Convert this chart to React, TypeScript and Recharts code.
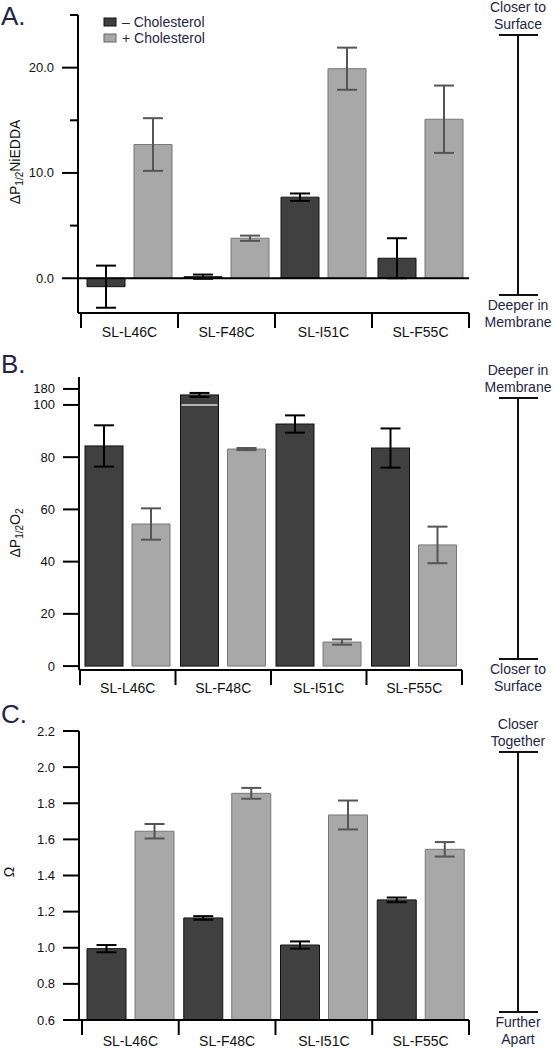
import React from 'react';
import { BarChart, Bar, XAxis, YAxis, ErrorBar, ReferenceLine, Legend } from 'recharts';

const FONT = '"Liberation Sans", Arial, Helvetica, sans-serif';
const INK = '#1f2547';
const DARK = '#404040';
const LIGHT = '#a8a8a8';

const categories = ['SL-L46C', 'SL-F48C', 'SL-I51C', 'SL-F55C'];
const seriesNames = ['– Cholesterol', '+ Cholesterol'];

// A. NiEDDA accessibility
const niMinus = [-0.8, 0.15, 7.7, 1.9];
const niMinusErr = [2.0, 0.2, 0.35, 1.9];
const niPlus = [12.7, 3.8, 19.9, 15.1];
const niPlusErr = [2.5, 0.25, 2.0, 3.2];

// B. O2 accessibility (axis broken above 100)
const o2Minus = [84.3, 150, 92.7, 83.5];
const o2MinusErr = [7.9, 10, 3.3, 7.5];
const o2Plus = [54.4, 83.1, 9.2, 46.4];
const o2PlusErr = [6.0, 0.4, 1.0, 7.0];

// C. Omega
const omegaMinus = [0.995, 1.165, 1.015, 1.265];
const omegaMinusErr = [0.02, 0.01, 0.02, 0.013];
const omegaPlus = [1.645, 1.855, 1.735, 1.545];
const omegaPlusErr = [0.04, 0.03, 0.08, 0.04];

const niTicks = [0, 5, 10, 15, 20, 25];
const omegaTicks = [0.6, 0.8, 1.0, 1.2, 1.4, 1.6, 1.8, 2.0, 2.2];

// axis break for panel B: values over 100 are squeezed
const BREAK = 100;
const SQUEEZE = 0.0766;
const toBroken = (v: number) => (v <= BREAK ? v : BREAK + (v - BREAK) * SQUEEZE);
const fromBroken = (v: number) => (v <= BREAK ? v : BREAK + (v - BREAK) / SQUEEZE);
const o2Ticks = [0, 20, 40, 60, 80, 100, toBroken(180)];

const niData = categories.map((name, i) => ({
  name,
  minus: niMinus[i],
  minusErr: niMinusErr[i],
  plus: niPlus[i],
  plusErr: niPlusErr[i],
}));

const o2Data = categories.map((name, i) => ({
  name,
  minus: toBroken(o2Minus[i]),
  minusErr: o2Minus[i] > BREAK ? o2MinusErr[i] * SQUEEZE : o2MinusErr[i],
  plus: toBroken(o2Plus[i]),
  plusErr: o2Plus[i] > BREAK ? o2PlusErr[i] * SQUEEZE : o2PlusErr[i],
}));

const omegaData = categories.map((name, i) => ({
  name,
  minus: omegaMinus[i],
  minusErr: omegaMinusErr[i],
  plus: omegaPlus[i],
  plusErr: omegaPlusErr[i],
}));

const axisLine = { stroke: '#000', strokeWidth: 2 };

function makeYTick(label: (v: number) => string | null) {
  return (props: any) => {
    const { x, y, payload } = props;
    const txt = label(payload.value);
    const len = txt === null ? 8 : 16;
    return (
      <g>
        <line x1={x - len} x2={x} y1={y} y2={y} stroke="#000" strokeWidth={2} />
        {txt !== null && (
          <text x={x - 24} y={y} dy={4.5} textAnchor="end" fontSize={13} fill="#111" fontFamily={FONT}>
            {txt}
          </text>
        )}
      </g>
    );
  };
}

function makeBracketTick(half: number, dy: number) {
  return (props: any) => {
    const { x, y, payload, index } = props;
    return (
      <g>
        <line x1={x - half} x2={x - half} y1={y} y2={y + 15} stroke="#000" strokeWidth={2} />
        {index === categories.length - 1 && (
          <line x1={x + half} x2={x + half} y1={y} y2={y + 15} stroke="#000" strokeWidth={2} />
        )}
        <text x={x} y={y + dy} textAnchor="middle" fontSize={14} fill="#111" fontFamily={FONT}>
          {payload.value}
        </text>
      </g>
    );
  };
}

// dark bar in B gets a pale line where the axis is broken
const BrokenBar = (props: any) => {
  const { x, y, width, height, payload } = props;
  const v = payload.minus;
  const breakY = v > BREAK ? y + height - (height * BREAK) / v : null;
  return (
    <g>
      <rect x={x} y={y} width={width} height={height} fill={DARK} stroke="#111" strokeWidth={1} />
      {breakY !== null && (
        <line x1={x + 1} x2={x + width - 1} y1={breakY} y2={breakY} stroke="#b5b5b5" strokeWidth={2} />
      )}
    </g>
  );
};

const renderLegend = () => (
  <div style={{ fontFamily: FONT, fontSize: 14, color: INK, lineHeight: '16px' }}>
    {seriesNames.map((name, i) => (
      <div key={name} style={{ display: 'flex', alignItems: 'center', whiteSpace: 'nowrap' }}>
        <svg width={19} height={16}>
          <rect
            x={1}
            y={4}
            width={12}
            height={8}
            fill={i === 0 ? DARK : LIGHT}
            stroke={i === 0 ? '#111' : '#666'}
            strokeWidth={1}
          />
        </svg>
        <span>{name}</span>
      </div>
    ))}
  </div>
);

function ScaleBar({ top, bottom, upper, lower }: { top: number; bottom: number; upper: string[]; lower: string[] }) {
  const cx = 518;
  return (
    <g>
      <line x1={cx} x2={cx} y1={top} y2={bottom} stroke="#111" strokeWidth={2} />
      <line x1={499} x2={538} y1={top} y2={top} stroke="#111" strokeWidth={2} />
      <line x1={499} x2={538} y1={bottom} y2={bottom} stroke="#111" strokeWidth={2} />
      {upper.map((t, i) => (
        <text key={'u' + i} x={cx} y={top - 6 - (upper.length - 1 - i) * 17} textAnchor="middle" fontSize={14} fill={INK} fontFamily={FONT}>
          {t}
        </text>
      ))}
      {lower.map((t, i) => (
        <text key={'l' + i} x={cx} y={bottom + 15 + i * 17} textAnchor="middle" fontSize={14} fill={INK} fontFamily={FONT}>
          {t}
        </text>
      ))}
    </g>
  );
}

export default function App() {
  const W = 554;
  return (
    <div style={{ position: 'absolute', left: 0, top: 0, width: W, height: 1050, background: '#fff', fontFamily: FONT }}>
      {/* A */}
      <div style={{ position: 'absolute', left: 0, top: 0 }}>
        <BarChart width={W} height={350} data={niData} margin={{ top: 15, right: 85, bottom: 7, left: 0 }} barCategoryGap={6} barGap={9}>
          <XAxis
            dataKey="name"
            height={30}
            padding={{ left: 3, right: 0 }}
            axisLine={axisLine}
            tickLine={false}
            tickSize={0}
            tickMargin={0}
            interval={0}
            tick={makeBracketTick(48.5, 24)}
          />
          <YAxis
            width={78}
            type="number"
            domain={[-3.3, 25]}
            allowDataOverflow
            ticks={niTicks}
            interval={0}
            axisLine={axisLine}
            tickLine={false}
            tickSize={0}
            tickMargin={0}
            tick={makeYTick((v) => (v % 10 === 0 ? v.toFixed(1) : null))}
          />
          <ReferenceLine y={0} stroke="#000" strokeWidth={2} />
          <Legend
            content={renderLegend}
            layout="vertical"
            align="center"
            verticalAlign="middle"
            wrapperStyle={{ top: 14, left: 103, width: 'auto', height: 'auto' }}
          />
          <Bar dataKey="minus" name={seriesNames[0]} fill={DARK} stroke="#111" strokeWidth={1} isAnimationActive={false}>
            <ErrorBar dataKey="minusErr" direction="y" width={10} stroke="#000" strokeWidth={2} />
          </Bar>
          <Bar dataKey="plus" name={seriesNames[1]} fill={LIGHT} stroke="#777" strokeWidth={1} isAnimationActive={false}>
            <ErrorBar dataKey="plusErr" direction="y" width={10} stroke="#555" strokeWidth={2} />
          </Bar>
        </BarChart>
      </div>

      {/* B */}
      <div style={{ position: 'absolute', left: 0, top: 350 }}>
        <BarChart width={W} height={350} data={o2Data} margin={{ top: 27, right: 92, bottom: 0, left: 0 }} barCategoryGap={5} barGap={9}>
          <XAxis
            dataKey="name"
            height={30}
            padding={{ left: 1, right: 0 }}
            axisLine={axisLine}
            tickLine={false}
            tickSize={0}
            tickMargin={0}
            interval={0}
            tick={makeBracketTick(47.75, 23)}
          />
          <YAxis
            width={79}
            type="number"
            domain={[-1.5, 110.7]}
            allowDataOverflow
            ticks={o2Ticks}
            interval={0}
            axisLine={axisLine}
            tickLine={false}
            tickSize={0}
            tickMargin={0}
            tick={makeYTick((v) => String(Math.round(fromBroken(v))))}
          />
          <Bar dataKey="minus" name={seriesNames[0]} fill={DARK} shape={BrokenBar} isAnimationActive={false}>
            <ErrorBar dataKey="minusErr" direction="y" width={10} stroke="#000" strokeWidth={2} />
          </Bar>
          <Bar dataKey="plus" name={seriesNames[1]} fill={LIGHT} stroke="#777" strokeWidth={1} isAnimationActive={false}>
            <ErrorBar dataKey="plusErr" direction="y" width={10} stroke="#555" strokeWidth={2} />
          </Bar>
        </BarChart>
      </div>

      {/* C */}
      <div style={{ position: 'absolute', left: 0, top: 700 }}>
        <BarChart width={W} height={350} data={omegaData} margin={{ top: 31, right: 85, bottom: 0, left: 0 }} barCategoryGap={5} barGap={9}>
          <XAxis
            dataKey="name"
            height={30}
            padding={{ left: 3, right: 0 }}
            axisLine={axisLine}
            tickLine={false}
            tickSize={0}
            tickMargin={0}
            interval={0}
            tick={makeBracketTick(48.4, 26)}
          />
          <YAxis
            width={79}
            type="number"
            domain={[0.6, 2.2]}
            allowDataOverflow
            ticks={omegaTicks}
            interval={0}
            axisLine={axisLine}
            tickLine={false}
            tickSize={0}
            tickMargin={0}
            tick={makeYTick((v) => v.toFixed(1))}
          />
          <Bar dataKey="minus" name={seriesNames[0]} fill={DARK} stroke="#111" strokeWidth={1} isAnimationActive={false}>
            <ErrorBar dataKey="minusErr" direction="y" width={10} stroke="#000" strokeWidth={2} />
          </Bar>
          <Bar dataKey="plus" name={seriesNames[1]} fill={LIGHT} stroke="#777" strokeWidth={1} isAnimationActive={false}>
            <ErrorBar dataKey="plusErr" direction="y" width={10} stroke="#555" strokeWidth={2} />
          </Bar>
        </BarChart>
      </div>

      {/* panel letters, axis titles, depth scale bars */}
      <svg width={W} height={1050} style={{ position: 'absolute', left: 0, top: 0, pointerEvents: 'none' }}>
        <text x={1} y={25} fontSize={26} fill={INK} fontFamily={FONT}>A.</text>
        <text x={1} y={373} fontSize={26} fill={INK} fontFamily={FONT}>B.</text>
        <text x={1} y={723} fontSize={26} fill={INK} fontFamily={FONT}>C.</text>

        <text transform="translate(20,162) rotate(-90)" textAnchor="middle" fontSize={14} fill="#111" fontFamily={FONT}>
          ΔP<tspan fontSize={10} dy={3}>1/2</tspan>
          <tspan dy={-3}>NiEDDA</tspan>
        </text>
        <text transform="translate(20,533) rotate(-90)" textAnchor="middle" fontSize={14} fill="#111" fontFamily={FONT}>
          ΔP<tspan fontSize={10} dy={3}>1/2</tspan>
          <tspan dy={-3}>O</tspan>
          <tspan fontSize={10} dy={3}>2</tspan>
        </text>
        <text transform="translate(14,872) rotate(-90)" textAnchor="middle" fontSize={14} fill="#111" fontFamily={FONT}>
          Ω
        </text>

        <ScaleBar top={35} bottom={295} upper={['Closer to', 'Surface']} lower={['Deeper in', 'Membrane']} />
        <ScaleBar top={398} bottom={659} upper={['Deeper in', 'Membrane']} lower={['Closer to', 'Surface']} />
        <ScaleBar top={752} bottom={1012} upper={['Closer', 'Together']} lower={['Further', 'Apart']} />
      </svg>
    </div>
  );
}
